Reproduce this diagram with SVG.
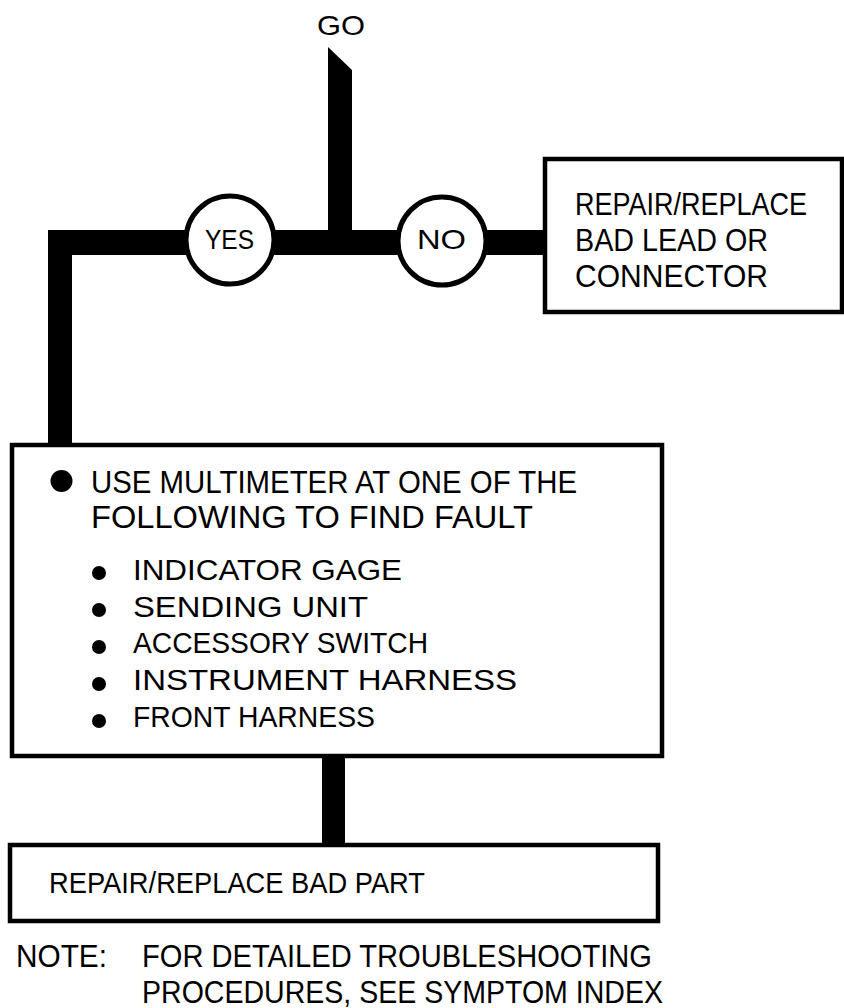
<svg xmlns="http://www.w3.org/2000/svg" width="844" height="1008" viewBox="0 0 844 1008">
<style>
.t{font-family:"Liberation Sans",Arial,sans-serif;fill:#000;}
.box{fill:#fff;stroke:#000;stroke-width:4.5;}
.circ{fill:#fff;stroke:#000;stroke-width:5;}
.bar{fill:#000;}
</style>
<rect width="844" height="1008" fill="#fff"/>
<g id="connectors">
<polygon class="bar" points="328,47 352,70 352,231 328,231"/>
<polygon class="bar" points="48,230 547,230 547,255 72,255 72,447 48,447"/>
<rect class="bar" x="322" y="754" width="23" height="93"/>
</g>
<g id="go">
<text class="t" x="317" y="35" font-size="28" textLength="48" lengthAdjust="spacingAndGlyphs">GO</text>
</g>
<g id="yes">
<circle class="circ" cx="230" cy="240" r="44"/>
<text class="t" x="205" y="249" font-size="28" textLength="49" lengthAdjust="spacingAndGlyphs">YES</text>
</g>
<g id="no">
<circle class="circ" cx="442" cy="241" r="44"/>
<text class="t" x="417" y="249" font-size="28" textLength="49" lengthAdjust="spacingAndGlyphs">NO</text>
</g>
<g id="repair-lead">
<rect class="box" x="545" y="159" width="297" height="153"/>
<text class="t" x="575" y="215" font-size="31" textLength="232" lengthAdjust="spacingAndGlyphs">REPAIR/REPLACE</text>
<text class="t" x="575" y="251" font-size="31" textLength="193" lengthAdjust="spacingAndGlyphs">BAD LEAD OR</text>
<text class="t" x="575" y="287" font-size="31" textLength="193" lengthAdjust="spacingAndGlyphs">CONNECTOR</text>
</g>
<g id="multimeter">
<rect class="box" x="12" y="445" width="650" height="311"/>
<circle cx="61.5" cy="481" r="11" fill="#000"/>
<text class="t" x="91" y="493" font-size="31" textLength="486" lengthAdjust="spacingAndGlyphs">USE MULTIMETER AT ONE OF THE</text>
<text class="t" x="91" y="528" font-size="31" textLength="442" lengthAdjust="spacingAndGlyphs">FOLLOWING TO FIND FAULT</text>
<circle cx="99" cy="573" r="7" fill="#000"/>
<text class="t" x="133" y="580" font-size="30" textLength="269" lengthAdjust="spacingAndGlyphs">INDICATOR GAGE</text>
<circle cx="99" cy="610" r="7" fill="#000"/>
<text class="t" x="133" y="617" font-size="30" textLength="235" lengthAdjust="spacingAndGlyphs">SENDING UNIT</text>
<circle cx="99" cy="647" r="7" fill="#000"/>
<text class="t" x="133" y="653" font-size="30" textLength="295" lengthAdjust="spacingAndGlyphs">ACCESSORY SWITCH</text>
<circle cx="99" cy="684" r="7" fill="#000"/>
<text class="t" x="133" y="690" font-size="30" textLength="384" lengthAdjust="spacingAndGlyphs">INSTRUMENT HARNESS</text>
<circle cx="99" cy="721" r="7" fill="#000"/>
<text class="t" x="133" y="727" font-size="30" textLength="242" lengthAdjust="spacingAndGlyphs">FRONT HARNESS</text>
</g>
<g id="repair-part">
<rect class="box" x="10" y="845" width="648" height="76"/>
<text class="t" x="49" y="893" font-size="30" textLength="376" lengthAdjust="spacingAndGlyphs">REPAIR/REPLACE BAD PART</text>
</g>
<g id="note">
<text class="t" x="16" y="967" font-size="31" textLength="91" lengthAdjust="spacingAndGlyphs">NOTE:</text>
<text class="t" x="142" y="967" font-size="31" textLength="510" lengthAdjust="spacingAndGlyphs">FOR DETAILED TROUBLESHOOTING</text>
<text class="t" x="142" y="1003" font-size="31" textLength="521" lengthAdjust="spacingAndGlyphs">PROCEDURES, SEE SYMPTOM INDEX</text>
</g>
</svg>
